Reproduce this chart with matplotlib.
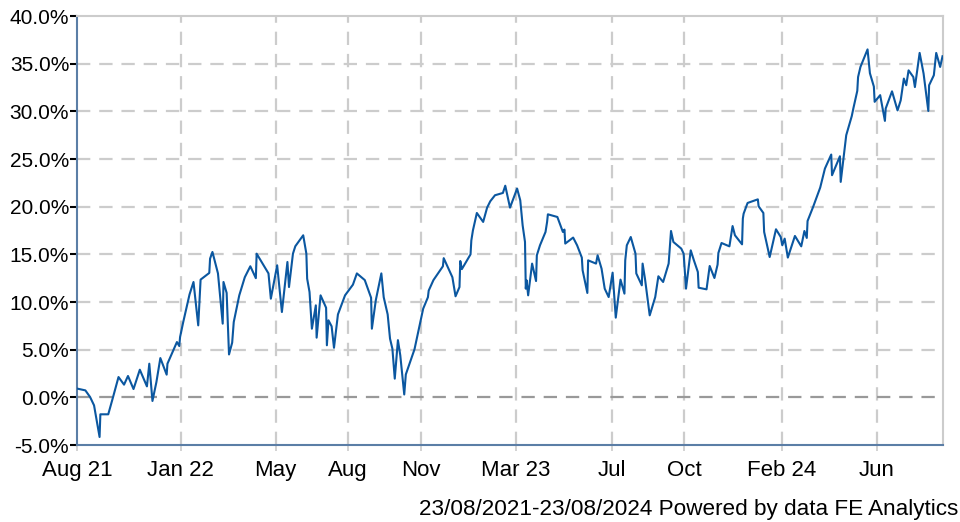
import matplotlib
matplotlib.use("Agg")
import matplotlib.pyplot as plt
import pandas as pd
from matplotlib.ticker import FuncFormatter

plt.rcParams['font.family'] = ['Liberation Sans', 'DejaVu Sans']

start_date = "2021-08-23"
end_date = "2024-08-23"

# days since start date
days = [0, 10, 16, 21, 28, 29, 39, 45, 52, 59, 64, 71, 79, 88, 91, 95, 100, 105, 113, 114,
        126, 129, 130, 134, 142, 147, 153, 156, 167, 168, 171, 178, 184, 185, 189, 192, 196, 198,
        205, 212, 219, 226, 227, 242, 245, 253, 259, 266, 268, 273, 276, 286, 290, 291, 294, 297,
        302, 303, 308, 315, 316, 318, 322, 325, 330, 339, 349, 354, 364, 372, 373, 378, 385, 388,
        393, 396, 399, 402, 406, 409, 414, 416, 427, 438, 444, 445, 451, 463, 464, 469, 475, 479,
        484, 485, 487, 498, 499, 501, 506, 514, 519, 523, 529, 539, 542, 548, 557, 561, 564, 567,
        568, 569, 571, 576, 581, 582, 586, 593, 595, 596, 608, 615, 617, 618, 628, 633, 639, 640,
        646, 647, 657, 659, 664, 668, 673, 678, 682, 688, 693, 694, 696, 701, 707, 708, 715, 716,
        719, 725, 732, 736, 742, 749, 752, 755, 765, 768, 771, 777, 781, 786, 787, 797, 801, 807,
        811, 812, 816, 826, 830, 833, 842, 843, 844, 849, 862, 863, 869, 870, 877, 885, 891, 893,
        896, 900, 909, 917, 921, 924, 925, 932, 941, 947, 955, 956, 966, 967, 974, 981, 983, 988,
        989, 992, 1001, 1004, 1009, 1010, 1017, 1023, 1024, 1032, 1039, 1043, 1047, 1050, 1053,
        1059, 1061, 1067, 1072, 1078, 1079, 1085, 1088, 1093, 1096]

returns = [0.91, 0.73, 0.03, -0.84, -4.16, -1.78, -1.78, 0.0, 2.13, 1.33, 2.24, 0.87, 2.9, 1.15,
           3.53, -0.38, 1.6, 4.12, 2.38, 3.53, 5.8, 5.38, 6.33, 7.9, 10.8, 12.1, 7.55, 12.35, 13.05,
           14.55, 15.25, 13.0, 7.73, 12.1, 10.95, 4.5, 5.74, 7.9, 10.7, 12.6, 13.75, 12.5, 15.07,
           13.0, 10.35, 13.85, 8.95, 14.2, 11.57, 15.07, 15.85, 17.0, 15.07, 12.45, 11.05, 7.2,
           9.65, 6.26, 10.7, 9.4, 5.46, 8.08, 7.45, 5.2, 8.7, 10.7, 11.82, 13.0, 12.3, 10.45, 7.2,
           10.2, 13.0, 10.5, 8.7, 6.15, 5.1, 1.96, 6.0, 4.4, 0.3, 2.4, 5.04, 9.3, 10.5, 11.2, 12.3,
           13.75, 14.6, 13.7, 12.6, 10.6, 11.57, 14.3, 13.45, 15.0, 16.45, 17.5, 19.34, 18.4, 19.9,
           20.57, 21.2, 21.44, 22.2, 19.9, 21.9, 20.67, 18.05, 16.3, 11.4, 12.28, 10.7, 14.03, 12.2,
           14.9, 15.95, 17.35, 18.4, 19.2, 18.92, 17.35, 17.6, 16.13, 16.76, 15.95, 14.66, 13.33,
           10.95, 14.37, 14.03, 14.9, 13.5, 11.4, 10.52, 13.08, 8.36, 12.35, 10.88, 14.37, 15.95,
           16.82, 15.07, 13.0, 11.75, 14.03, 12.45, 8.6, 10.52, 12.7, 12.1, 14.03, 17.45, 16.3,
           15.6, 15.07, 11.4, 15.42, 14.37, 13.15, 11.5, 11.33, 13.78, 12.52, 13.92, 15.14, 16.19,
           15.84, 17.97, 17.0, 16.05, 18.75, 19.27, 20.39, 20.77, 20.04, 19.34, 17.35, 14.72, 17.63,
           16.82, 15.95, 16.65, 14.66, 16.93, 15.84, 17.45, 16.72, 18.5, 19.97, 22.0, 24.0, 25.47,
           23.3, 25.29, 22.6, 27.5, 29.5, 30.3, 32.15, 33.6, 34.66, 36.5, 34.0, 32.6, 31.0, 31.7,
           29.0, 30.3, 32.1, 30.1, 31.15, 33.44, 32.74, 34.3, 33.6, 32.55, 36.13, 33.96, 30.04,
           32.74, 33.79, 36.13, 34.66, 35.78]

tick_dates = ["2021-08-23", "2022-01-01", "2022-05-01", "2022-08-01", "2022-11-01",
              "2023-03-01", "2023-07-01", "2023-10-01", "2024-02-01", "2024-06-01"]
tick_labels = ["Aug 21", "Jan 22", "May", "Aug", "Nov", "Mar 23", "Jul", "Oct", "Feb 24", "Jun"]
y_ticks = [-5, 0, 5, 10, 15, 20, 25, 30, 35, 40]
footer = "23/08/2021-23/08/2024 Powered by data FE Analytics"

dates = pd.Timestamp(start_date) + pd.to_timedelta(days, unit="D")

fig = plt.figure(figsize=(9.6, 5.22), dpi=100)
ax = fig.add_axes([0.0807, 0.1475, 0.9011, 0.8218])

ax.plot(dates, returns, color="#0b57a0", lw=1.5, zorder=3)

ax.set_xlim(pd.Timestamp(start_date), pd.Timestamp(end_date))
ax.set_ylim(-5, 40)
ax.set_yticks(y_ticks)
ax.yaxis.set_major_formatter(FuncFormatter(lambda v, p: f"{v:.1f}%"))
ax.set_xticks(pd.to_datetime(tick_dates))
ax.set_xticklabels(tick_labels)

grid_kw = dict(color="#cccccc", lw=1.6, dashes=(6, 4), zorder=1)
for yt in y_ticks:
    if yt == 0:
        ax.axhline(0, color="#999999", lw=1.6, dashes=(6, 4), zorder=2)
    elif -5 < yt < 40:
        ax.axhline(yt, **grid_kw)
for td in pd.to_datetime(tick_dates[1:]):
    ax.axvline(td, **grid_kw)

for s in ["left", "bottom"]:
    ax.spines[s].set_color("#5b7ea6")
    ax.spines[s].set_linewidth(1.5)
for s in ["top", "right"]:
    ax.spines[s].set_color("#cccccc")
    ax.spines[s].set_linewidth(1.5)

ax.tick_params(axis="y", length=5, width=1.5, color="#000000", labelsize=15, pad=1)
ax.tick_params(axis="x", length=4, width=1.2, color="#cccccc", labelsize=16, pad=7)

fig.text(0.998, 1 - 515 / 522, footer, ha="right", va="baseline", fontsize=16.2)

fig.savefig("out.png", dpi=100)
